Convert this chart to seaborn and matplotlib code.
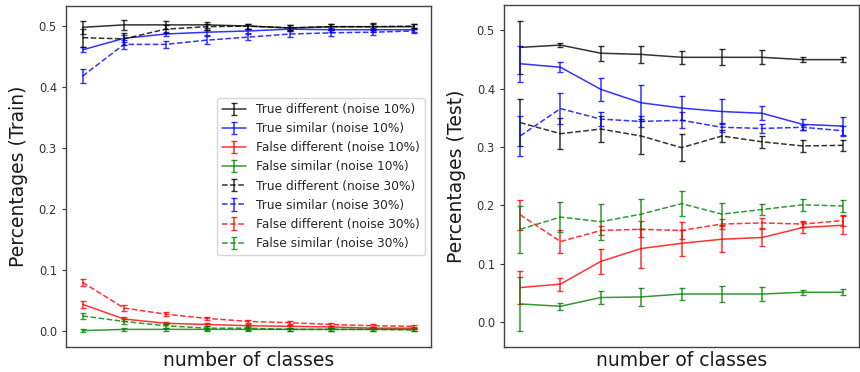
import numpy as np
import matplotlib
matplotlib.use("Agg")
import matplotlib.pyplot as plt
import seaborn as sns

n_points = 9
classes = np.arange(n_points)

labels = [
    "True different (noise 10%)",
    "True similar (noise 10%)",
    "False different (noise 10%)",
    "False similar (noise 10%)",
    "True different (noise 30%)",
    "True similar (noise 30%)",
    "False different (noise 30%)",
    "False similar (noise 30%)",
]
colors = ["black", "blue", "red", "green"] * 2
styles = ["-"] * 4 + ["--"] * 4

# Train split: means and error half-widths
train_td10 = [0.498, 0.502, 0.502, 0.502, 0.500, 0.497, 0.499, 0.499, 0.499]
train_ts10 = [0.461, 0.480, 0.487, 0.490, 0.492, 0.495, 0.494, 0.494, 0.494]
train_fd10 = [0.044, 0.020, 0.013, 0.011, 0.009, 0.008, 0.007, 0.005, 0.005]
train_fs10 = [0.001, 0.003, 0.003, 0.003, 0.003, 0.003, 0.003, 0.003, 0.003]
train_td30 = [0.481, 0.479, 0.495, 0.499, 0.500, 0.497, 0.499, 0.499, 0.500]
train_ts30 = [0.418, 0.470, 0.470, 0.477, 0.482, 0.487, 0.489, 0.490, 0.492]
train_fd30 = [0.080, 0.038, 0.028, 0.021, 0.016, 0.014, 0.011, 0.009, 0.008]
train_fs30 = [0.025, 0.016, 0.009, 0.005, 0.005, 0.003, 0.003, 0.003, 0.002]

train_td10_err = [0.011, 0.008, 0.007, 0.005, 0.004, 0.004, 0.005, 0.006, 0.004]
train_ts10_err = [0.004, 0.006, 0.004, 0.004, 0.003, 0.003, 0.003, 0.003, 0.003]
train_fd10_err = [0.006, 0.003, 0.002, 0.002, 0.002, 0.002, 0.002, 0.002, 0.002]
train_fs10_err = [0.002, 0.002, 0.002, 0.002, 0.002, 0.002, 0.002, 0.002, 0.002]
train_td30_err = [0.015, 0.010, 0.006, 0.005, 0.004, 0.004, 0.004, 0.004, 0.003]
train_ts30_err = [0.011, 0.008, 0.006, 0.007, 0.005, 0.005, 0.005, 0.004, 0.004]
train_fd30_err = [0.006, 0.005, 0.003, 0.003, 0.003, 0.002, 0.002, 0.002, 0.002]
train_fs30_err = [0.005, 0.004, 0.003, 0.003, 0.003, 0.002, 0.002, 0.002, 0.002]

# Test split: means and error half-widths
test_td10 = [0.471, 0.475, 0.461, 0.459, 0.454, 0.454, 0.454, 0.450, 0.450]
test_ts10 = [0.443, 0.437, 0.399, 0.376, 0.367, 0.361, 0.358, 0.339, 0.336]
test_fd10 = [0.059, 0.065, 0.104, 0.126, 0.135, 0.142, 0.145, 0.162, 0.166]
test_fs10 = [0.031, 0.027, 0.042, 0.043, 0.048, 0.048, 0.048, 0.051, 0.051]
test_td30 = [0.342, 0.323, 0.331, 0.319, 0.299, 0.319, 0.309, 0.302, 0.303]
test_ts30 = [0.319, 0.366, 0.348, 0.344, 0.346, 0.334, 0.332, 0.334, 0.328]
test_fd30 = [0.184, 0.138, 0.157, 0.159, 0.157, 0.168, 0.170, 0.168, 0.174]
test_fs30 = [0.159, 0.180, 0.172, 0.185, 0.203, 0.185, 0.193, 0.201, 0.199]

test_td10_err = [0.046, 0.004, 0.013, 0.015, 0.011, 0.014, 0.012, 0.004, 0.004]
test_ts10_err = [0.031, 0.009, 0.020, 0.031, 0.021, 0.022, 0.012, 0.009, 0.016]
test_fd10_err = [0.028, 0.011, 0.021, 0.033, 0.022, 0.022, 0.014, 0.009, 0.015]
test_fs10_err = [0.047, 0.006, 0.011, 0.016, 0.010, 0.014, 0.012, 0.004, 0.005]
test_td30_err = [0.040, 0.027, 0.022, 0.030, 0.023, 0.011, 0.010, 0.011, 0.010]
test_ts30_err = [0.034, 0.026, 0.012, 0.010, 0.014, 0.008, 0.007, 0.004, 0.009]
test_fd30_err = [0.026, 0.019, 0.008, 0.014, 0.015, 0.009, 0.009, 0.005, 0.010]
test_fs30_err = [0.040, 0.026, 0.031, 0.026, 0.021, 0.019, 0.010, 0.010, 0.011]

train_means = [train_td10, train_ts10, train_fd10, train_fs10,
               train_td30, train_ts30, train_fd30, train_fs30]
train_errs = [train_td10_err, train_ts10_err, train_fd10_err, train_fs10_err,
              train_td30_err, train_ts30_err, train_fd30_err, train_fs30_err]
test_means = [test_td10, test_ts10, test_fd10, test_fs10,
              test_td30, test_ts30, test_fd30, test_fs30]
test_errs = [test_td10_err, test_ts10_err, test_fd10_err, test_fs10_err,
             test_td30_err, test_ts30_err, test_fd30_err, test_fs30_err]

sns.set_style("ticks")
plt.rcParams["font.family"] = ["DejaVu Sans"]

fig = plt.figure(figsize=(8.6, 3.72), dpi=100)
ax_train = fig.add_axes([0.0767, 0.067, 0.4244, 0.917])
ax_test = fig.add_axes([0.586, 0.067, 0.413, 0.920])


def draw(ax, means, errs, ylabel, ylim):
    for mean, err, lab, col, ls in zip(means, errs, labels, colors, styles):
        ax.errorbar(classes, mean, yerr=err, color=col, linestyle=ls,
                    linewidth=1.1, elinewidth=1.1, capsize=2.2, capthick=1.0,
                    alpha=0.8, label=lab)
    ax.set_ylim(*ylim)
    ax.set_xticks([])
    ax.set_yticks([0.0, 0.1, 0.2, 0.3, 0.4, 0.5])
    ax.tick_params(axis="y", labelsize=8.3, length=3, width=0.8,
                   colors="#333333", labelcolor="#333333")
    ax.set_xlabel("number of classes", fontsize=13.5, color="#1a1a1a",
                  labelpad=3)
    ax.set_ylabel(ylabel, fontsize=13.5, color="#1a1a1a", labelpad=8)
    for sp in ax.spines.values():
        sp.set_visible(True)
        sp.set_color("#444444")
        sp.set_linewidth(1.0)


draw(ax_train, train_means, train_errs, "Percentages (Train)", (-0.026, 0.533))
draw(ax_test, test_means, test_errs, "Percentages (Test)", (-0.043, 0.544))

ax_train.legend(loc="center right", fontsize=8.8, frameon=True,
                handlelength=2.0, labelspacing=0.5, borderpad=0.4)

fig.savefig("out.png", dpi=100)
